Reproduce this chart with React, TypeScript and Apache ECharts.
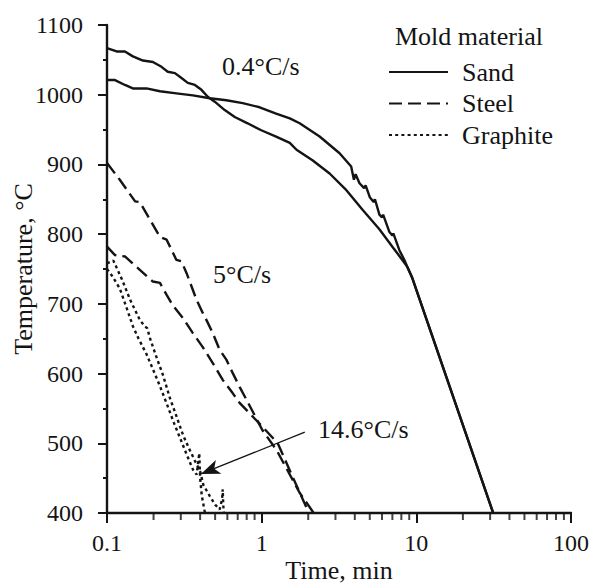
import React, { useEffect, useRef } from "react";
import * as echarts from "echarts";

// ---- data ----
const sandATime = [0.1, 0.1155, 0.1306, 0.147, 0.1707, 0.198, 0.225, 0.247, 0.275, 0.303, 0.333, 0.37, 0.408, 0.448, 0.497, 0.577, 0.67, 0.811, 0.994, 1.24, 1.52, 1.68, 2.13, 2.75, 3.53, 4.49, 5.77, 7.0, 8.12, 8.75, 9.42, 10.45, 31.4];
const sandAValue = [1067, 1062, 1062, 1055, 1049, 1047, 1040, 1033, 1031, 1024, 1017, 1014, 1007, 997, 990, 978, 968, 959, 949, 940, 931, 921, 906, 887, 863, 835, 807, 782, 763, 753, 737, 708, 400];

const sandBTime = [0.1, 0.1126, 0.1306, 0.147, 0.18, 0.22, 0.281, 0.359, 0.462, 0.591, 0.754, 0.97, 1.24, 1.52, 1.76, 2.37, 3.19, 3.79, 3.95, 4.05, 4.29, 4.6, 4.7, 5.0, 5.3, 5.4, 5.77, 6.0, 6.1, 6.7, 7.0, 7.1, 7.77, 8.37, 8.75, 9.42, 10.45, 31.4];
const sandBValue = [1021, 1021, 1014, 1009, 1009, 1005, 1002, 999, 995, 992, 988, 982, 973, 966, 959, 940, 916, 897, 878, 886, 873, 866, 870, 853, 846, 850, 828, 824, 828, 803, 798, 801, 777, 763, 753, 737, 708, 400];

const steel1Time = [0.1, 0.121, 0.152, 0.163, 0.22, 0.243, 0.281, 0.303, 0.327, 0.379, 0.416, 0.439, 0.483, 0.535, 0.591, 0.649, 0.72, 0.8, 1.01, 1.25, 1.76, 2.17];
const steel1Value = [902, 878, 847, 846, 796, 792, 763, 761, 744, 706, 687, 677, 658, 634, 620, 601, 581, 562, 519, 490, 429, 400];

const steel2Time = [0.1, 0.1126, 0.1306, 0.155, 0.198, 0.22, 0.243, 0.266, 0.309, 0.359, 0.416, 0.483, 0.56, 0.649, 0.72, 1.0, 1.27, 1.6, 2.02];
const steel2Value = [782, 770, 768, 753, 732, 730, 713, 698, 680, 658, 638, 615, 591, 572, 558, 525, 500, 450, 400];

const graphiteATime = [0.1, 0.108, 0.121, 0.135, 0.147, 0.16, 0.18, 0.2, 0.22, 0.245, 0.27, 0.3, 0.33, 0.36, 0.38, 0.395, 0.4, 0.41, 0.43];
const graphiteAValue = [750, 740, 722, 692, 668, 650, 628, 604, 582, 555, 530, 505, 482, 462, 455, 486, 450, 425, 400];

const graphiteBTime = [0.1, 0.11, 0.125, 0.141, 0.163, 0.175, 0.182, 0.19, 0.21, 0.23, 0.255, 0.28, 0.31, 0.34, 0.37, 0.4, 0.42, 0.46, 0.5, 0.535, 0.555, 0.56, 0.565, 0.57];
const graphiteBValue = [758, 762, 735, 706, 677, 668, 665, 650, 622, 598, 565, 540, 512, 492, 475, 460, 440, 425, 412, 405, 420, 434, 410, 400];

const xMinorTicks = [0.2, 0.3, 0.4, 0.5, 0.6, 0.7, 0.8, 0.9, 2, 3, 4, 5, 6, 7, 8, 9, 20, 30, 40, 50, 60, 70, 80, 90];
const xTickLabels = ["0.1", "1", "10", "100"];
const materials = ["Sand", "Steel", "Graphite"];
const arrowStart = [1.9, 516];
const arrowEnd = [0.405, 456];

const FONT = "Liberation Serif";
const INK = "#141414";
const WORD = 26;
const NUM = 24;

function zip(t: number[], v: number[]) {
  return t.map((x, i) => [x, v[i]]);
}

export default function App() {
  const ref = useRef<HTMLDivElement>(null);
  useEffect(() => {
    document.body.style.margin = "0";
    const chart = echarts.init(ref.current!, null, { renderer: "svg" });
    const lw = 2.4;
    const sandStyle = { color: INK, width: lw, type: "solid" as const };
    const steelStyle = { color: INK, width: lw, type: [13, 6] as any };
    const graphStyle = { color: INK, width: lw, type: [3, 3.2] as any };
    const line = (name: string, data: number[][], style: any, extra: any = {}) => ({
      type: "line",
      name,
      data,
      symbol: "none",
      showSymbol: false,
      lineStyle: style,
      itemStyle: { color: INK },
      z: 3,
      ...extra,
    });
    chart.setOption({
      animation: false,
      backgroundColor: "#fff",
      textStyle: { fontFamily: FONT, color: INK },
      grid: { left: 107, right: 18, top: 25, bottom: 71, containLabel: false, outerBoundsMode: "none" },
      title: {
        text: "Mold material",
        left: 395,
        top: 23,
        textStyle: { fontFamily: FONT, fontSize: WORD, fontWeight: "normal", color: INK },
        padding: 0,
      },
      legend: {
        data: materials,
        orient: "vertical",
        left: 388,
        top: 59,
        padding: 0,
        itemWidth: 59,
        itemHeight: 14,
        itemGap: 5.5,
        itemStyle: { opacity: 0 },
        textStyle: { fontFamily: FONT, fontSize: WORD, color: INK, padding: [0, 0, 0, 9] },
        selectedMode: false,
      },
      xAxis: {
        type: "log",
        logBase: 10,
        min: 0.1,
        max: 100,
        name: "Time, min",
        nameLocation: "middle",
        nameGap: 46,
        nameMoveOverlap: false,
        nameTextStyle: { fontFamily: FONT, fontSize: WORD, color: INK, lineHeight: 22 },
        axisLine: { show: true, lineStyle: { color: INK, width: 2.4 } },
        axisTick: { show: true, length: 10, lineStyle: { color: INK, width: 2 } },
        axisLabel: {
          margin: 18,
          fontFamily: FONT,
          fontSize: NUM,
          color: INK,
          formatter: (_v: number, i: number) => xTickLabels[i] ?? "",
        },
        splitLine: { show: false },
        minorTick: { show: false },
      },
      yAxis: {
        type: "value",
        min: 400,
        max: 1100,
        interval: 100,
        name: "Temperature, °C",
        nameLocation: "middle",
        nameGap: 72,
        nameMoveOverlap: false,
        nameTextStyle: { fontFamily: FONT, fontSize: WORD, color: INK, lineHeight: 24 },
        axisLine: { show: true, lineStyle: { color: INK, width: 2.4 } },
        axisTick: { show: true, length: 9, lineStyle: { color: INK, width: 2 } },
        minorTick: { show: true, splitNumber: 2, length: 4, lineStyle: { color: INK, width: 2 } },
        axisLabel: { margin: 24, fontFamily: FONT, fontSize: NUM, color: INK, formatter: (v: number) => String(v) },
        splitLine: { show: false },
      },
      series: [
        line("Sand", zip(sandATime, sandAValue), sandStyle),
        line("Sand", zip(sandBTime, sandBValue), sandStyle),
        line("Steel", zip(steel1Time, steel1Value), steelStyle),
        line("Steel", zip(steel2Time, steel2Value), steelStyle),
        line("Graphite", zip(graphiteATime, graphiteAValue), graphStyle, {
          markLine: {
            silent: true,
            animation: false,
            label: { show: false },
            lineStyle: { type: "solid", width: 1.3, color: INK },
            symbol: ["none", "arrow"],
            symbolSize: [1, 16],
            data: [[{ coord: arrowStart, symbol: "none" }, { coord: arrowEnd, symbol: "arrow", symbolSize: [11, 19] }]],
          },
        }),
        line("Graphite", zip(graphiteBTime, graphiteBValue), graphStyle),
        {
          type: "scatter",
          name: "minor ticks",
          data: xMinorTicks.map((v) => [v, 400]),
          symbol: "rect",
          symbolSize: [2, 6],
          symbolOffset: [0, 4],
          itemStyle: { color: INK },
          silent: true,
          clip: false,
          z: 4,
        },
      ],
      graphic: [
        { type: "text", left: 222, top: 53, style: { text: "0.4°C/s", font: `${WORD}px '${FONT}'`, fill: INK } },
        { type: "text", left: 213, top: 261, style: { text: "5°C/s", font: `${WORD}px '${FONT}'`, fill: INK } },
        { type: "text", left: 318, top: 416, style: { text: "14.6°C/s", font: `${WORD}px '${FONT}'`, fill: INK } },
      ],
    });
    return () => chart.dispose();
  }, []);
  return <div ref={ref} style={{ position: "fixed", left: 0, top: 0, width: 589, height: 584 }} />;
}
